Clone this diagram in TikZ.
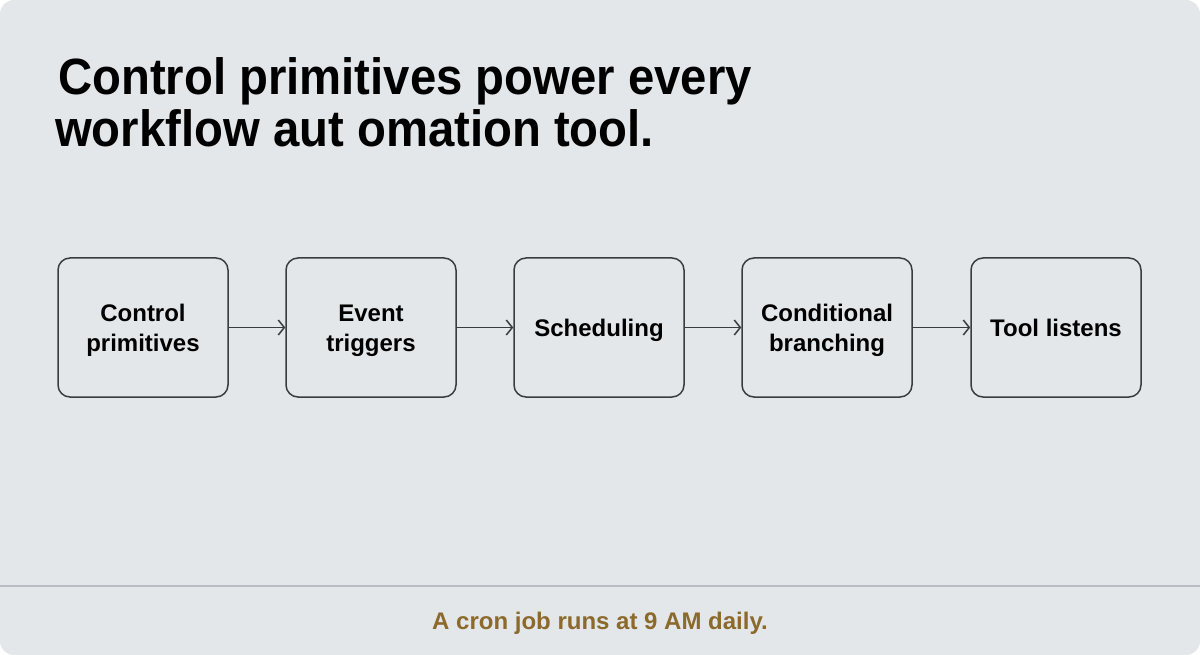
\documentclass[tikz,border=0pt]{standalone}
\usepackage{fontspec}
\setmainfont{Liberation Sans}
\newfontfamily\titlefont[FakeStretch=0.927]{Liberation Sans}
\usetikzlibrary{arrows.meta}
\definecolor{bg}{HTML}{E3E7EA}
\definecolor{edge}{HTML}{3A3D40}
\definecolor{rule}{HTML}{B8BEC4}
\definecolor{gold}{HTML}{8B6A2B}
\newcommand\bxt[1]{\raisebox{0pt}[\dimexpr\height+6pt\relax][\depth]{\begin{tabular}{@{}c@{}}#1\end{tabular}}}
\tikzset{
  stepbox/.style={draw=edge, line width=1.5pt, rounded corners=12pt, minimum width=170pt, minimum height=139pt, font=\fontsize{24}{30}\selectfont\bfseries, inner sep=0pt},
  flow/.style={draw=edge, line width=1.6pt, -{Straight Barb[length=6pt,width=15pt,line width=1.5pt]}},
  titletext/.style={anchor=base west, inner sep=0pt, font=\titlefont\fontsize{51}{52}\selectfont\bfseries}
}
\begin{document}
\begin{tikzpicture}[x=1pt,y=-1pt]
\fill[white] (0,0) rectangle (1200,655);
\fill[bg, rounded corners=14pt] (0,0) rectangle (1200,655);
\useasboundingbox (0,0) rectangle (1200,655);
\node[titletext] (t1) at (58,95) {Control primitives power every};
\node[titletext] (t2) at (55,147) {workflow aut omation tool.};
\node[stepbox] (b1) at (143,327.5) {\bxt{Control\\primitives}};
\node[stepbox] (b2) at (371,327.5) {\bxt{Event\\triggers}};
\node[stepbox] (b3) at (599,327.5) {\bxt{Scheduling}};
\node[stepbox] (b4) at (827,327.5) {\bxt{Conditional\\branching}};
\node[stepbox] (b5) at (1056,327.5) {\bxt{Tool listens}};
\draw[flow] (b1) -- (b2);
\draw[flow] (b2) -- (b3);
\draw[flow] (b3) -- (b4);
\draw[flow] (b4) -- (b5);
\coordinate (rl) at (0,586);
\coordinate (rr) at (1200,586);
\draw[rule, line width=1.2pt] (rl) -- (rr);
\node[anchor=base, inner sep=0pt, text=gold, font=\fontsize{24}{28}\selectfont\bfseries] (foot) at (600,629) {A cron job runs at 9 AM daily.};
\end{tikzpicture}
\end{document}
